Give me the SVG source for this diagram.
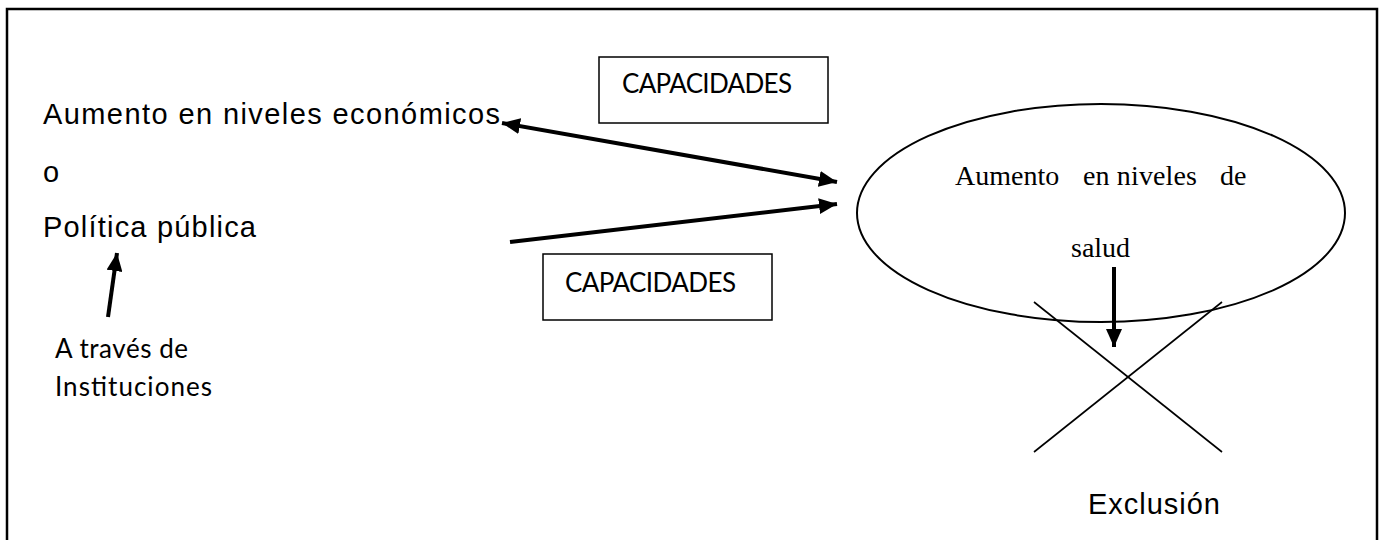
<svg xmlns="http://www.w3.org/2000/svg" width="1386" height="540" viewBox="0 0 1386 540">
<defs>
<style>
.sans{font-family:"Liberation Sans",Arial,sans-serif;font-size:29px;fill:#000}
.cal{font-family:Lato,"Open Sans",sans-serif;font-size:26px;fill:#000}
.ser{font-family:"Liberation Serif","Times New Roman",serif;font-size:28px;fill:#000}
.box{fill:#fff;stroke:#000;stroke-width:1.5}
.arr{stroke:#000;stroke-width:4;fill:none}
.thin{stroke:#000;stroke-width:1.6;fill:none}
</style>
<marker id="ah" markerUnits="userSpaceOnUse" markerWidth="18" markerHeight="16" refX="18" refY="8" orient="auto-start-reverse" viewBox="0 0 18 16">
<path d="M0,0 L18,8 L0,16 z" fill="#000"/>
</marker>
</defs>
<rect width="1386" height="540" fill="#fff"/>
<path id="frame" d="M7,540 V9 H1377 V540" fill="none" stroke="#000" stroke-width="2.5"/>

<g id="left-text">
<text class="sans" x="43" y="124" textLength="457" lengthAdjust="spacing">Aumento  en niveles económicos</text>
<text class="sans" x="43" y="182">o</text>
<text class="sans" x="43" y="237" textLength="213" lengthAdjust="spacing">Política  pública</text>
</g>

<g id="instituciones">
<text class="cal" x="55" y="358" textLength="133" lengthAdjust="spacing">A través de</text>
<text class="cal" x="55" y="396" textLength="157" lengthAdjust="spacing">Instituciones</text>
</g>

<g id="capacidades-top">
<rect class="box" x="599" y="57" width="229" height="66"/>
<text class="cal" x="622" y="93" textLength="170" lengthAdjust="spacing">CAPACIDADES</text>
</g>

<g id="capacidades-bottom">
<rect class="box" x="543" y="254" width="229" height="66"/>
<text class="cal" x="565" y="292" textLength="171" lengthAdjust="spacing">CAPACIDADES</text>
</g>

<g id="salud">
<ellipse cx="1101" cy="213" rx="244" ry="109" fill="none" stroke="#000" stroke-width="2"/>
<text class="ser" x="955" y="185">Aumento</text>
<text class="ser" x="1083" y="185" textLength="114" lengthAdjust="spacing">en niveles</text>
<text class="ser" x="1220" y="185">de</text>
<text class="ser" x="1071" y="257">salud</text>
</g>

<g id="exclusion">
<line class="thin" x1="1034" y1="302" x2="1222" y2="452"/>
<line class="thin" x1="1222" y1="302" x2="1034" y2="452"/>
<text class="sans" x="1088" y="514" textLength="132" lengthAdjust="spacing">Exclusión</text>
</g>

<g id="connectors">
<line class="arr" x1="502" y1="123" x2="837" y2="182" marker-start="url(#ah)" marker-end="url(#ah)"/>
<line class="arr" x1="510" y1="242" x2="837" y2="204" marker-end="url(#ah)"/>
<line class="arr" x1="108" y1="317" x2="117" y2="253" marker-end="url(#ah)"/>
<line class="arr" x1="1114" y1="267" x2="1114" y2="347" marker-end="url(#ah)"/>
</g>
</svg>
